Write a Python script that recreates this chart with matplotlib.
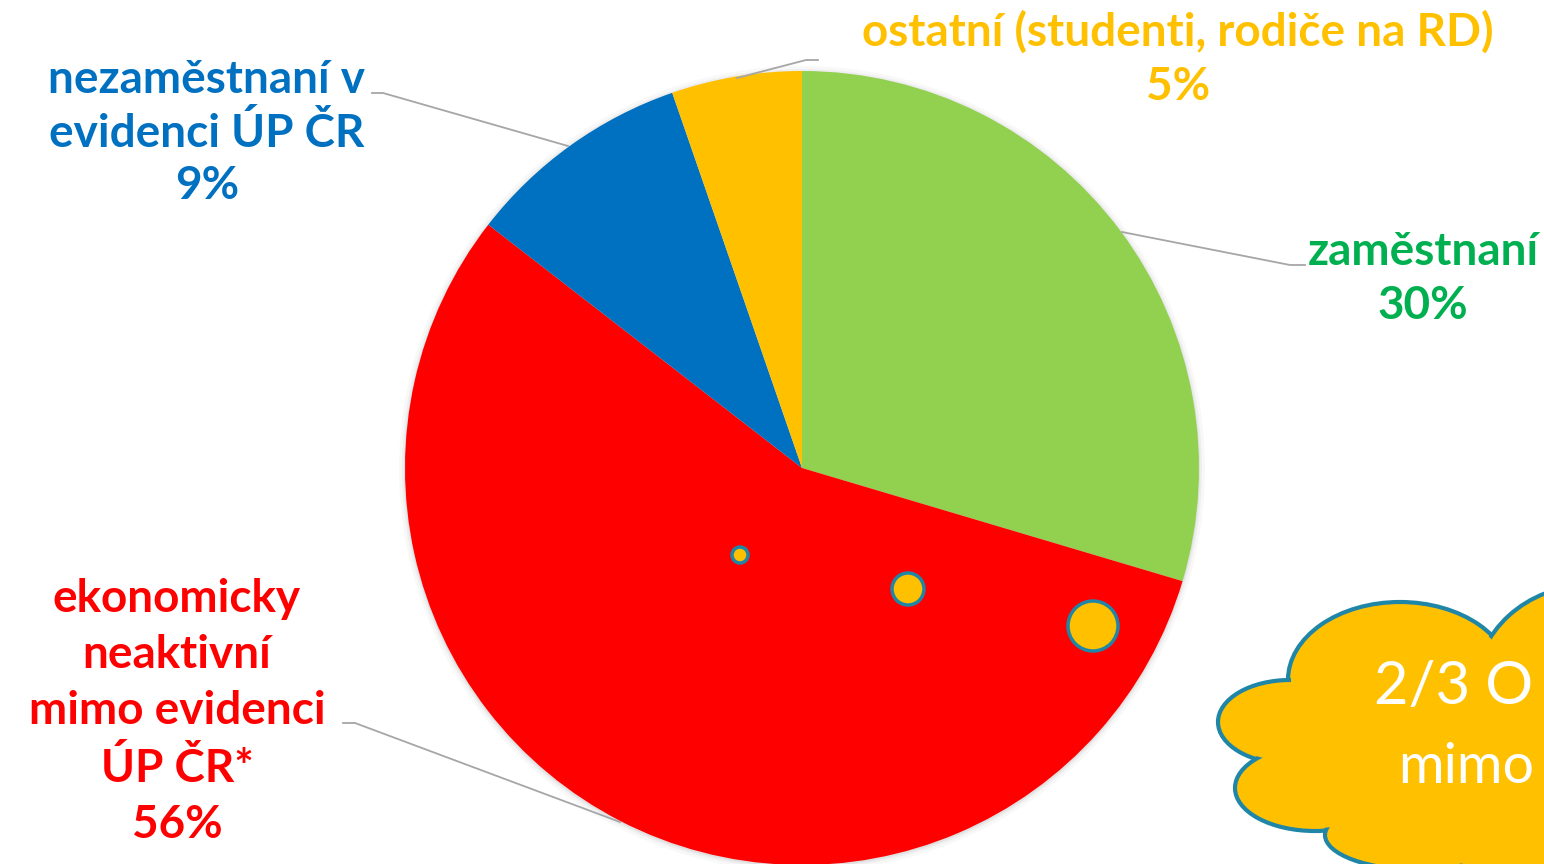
import numpy as np
import matplotlib
matplotlib.use("Agg")
from matplotlib import pyplot as plt
from matplotlib.patches import Circle, Ellipse

# data
labels = ["zaměstnaní",
          "ekonomicky\nneaktivní\nmimo evidenci\nÚP ČR*",
          "nezaměstnaní v\nevidenci ÚP ČR",
          "ostatní (studenti, rodiče na RD)"]
values = [29.6, 55.9, 9.2, 5.3]
slice_colors = ["#92D050", "#FF0000", "#0070C0", "#FFC000"]
text_colors = ["#00B050", "#FF0000", "#0070C0", "#FFC000"]
cloud_lines = ["2/3 O", "mimo"]

H = 864
fig = plt.figure(figsize=(15.44, 8.64), dpi=100)
ax = fig.add_axes([0, 0, 1, 1])

# pie geometry (pixels, y measured up)
cx, cy, r = 802, H - 468, 397

# soft shadow behind the pie
for dr, a in [(6, 0.05), (3, 0.08), (1, 0.12)]:
    ax.add_patch(Circle((cx, cy - 1), r + dr, color="gray", alpha=a, lw=0, zorder=0))

ax.pie(values, colors=slice_colors, startangle=90, counterclock=False,
       center=(cx, cy), radius=r, frame=True,
       wedgeprops=dict(linewidth=0, zorder=1))

# labels: centre of text block and leader line points (pixel coords, y down)
label_pos = [(1423, 279), (177, 712), (207, 133), (1178, 59)]
spacing = [1.33, 1.42, 1.31, 1.36]
leaders = [
    [(1122, 232), (1290, 265), (1305, 265)],
    [(620, 822), (355, 723), (343, 723)],
    [(568, 146), (383, 93), (372, 93)],
    [(737, 78), (806, 60), (818, 60)],
]
for lab, v, col, (px, py), ls, pts in zip(labels, values, text_colors, label_pos, spacing, leaders):
    ax.text(px, H - py, f"{lab}\n{v:.0f}%", color=col, fontsize=33, fontweight="bold",
            family="Lato", ha="center", va="center", multialignment="center",
            linespacing=ls, zorder=5)
    xs = [p[0] for p in pts]
    ys = [H - p[1] for p in pts]
    ax.plot(xs, ys, color="#A6A6A6", lw=1.3, zorder=2)

# thought bubbles
bub_col = "#FFC000"
edge_col = "#1F86A8"
for (bx, by, br) in [(740, 555, 8), (908, 589, 16), (1093, 626, 25)]:
    ax.add_patch(Circle((bx, H - by), br, facecolor=bub_col, edgecolor=edge_col, lw=2.5, zorder=3))

# cloud built from overlapping ellipses
bumps = [(1400, 680, 224, 156), (1590, 690, 230, 210), (1290, 722, 144, 84),
         (1315, 788, 160, 86), (1420, 835, 190, 70), (1560, 860, 200, 120)]
for (ex, ey, w, h) in bumps:
    ax.add_patch(Ellipse((ex, H - ey), w, h, facecolor=bub_col, edgecolor=edge_col,
                         lw=3, zorder=3))
for (ex, ey, w, h) in bumps + [(1450, 760, 320, 200)]:
    ax.add_patch(Ellipse((ex, H - ey), w - 6, h - 6, facecolor=bub_col, lw=0, zorder=4))

ax.text(1374, H - 687, cloud_lines[0], color="white", fontsize=43, family="Lato",
        ha="left", va="center", zorder=6, clip_on=True)
ax.text(1398, H - 783, cloud_lines[1], color="white", fontsize=40, family="Lato",
        ha="left", va="baseline", zorder=6, clip_on=True)

ax.set_xlim(0, 1544)
ax.set_ylim(0, H)
ax.set_aspect("equal")
ax.axis("off")

plt.savefig("out.png", dpi=100)
